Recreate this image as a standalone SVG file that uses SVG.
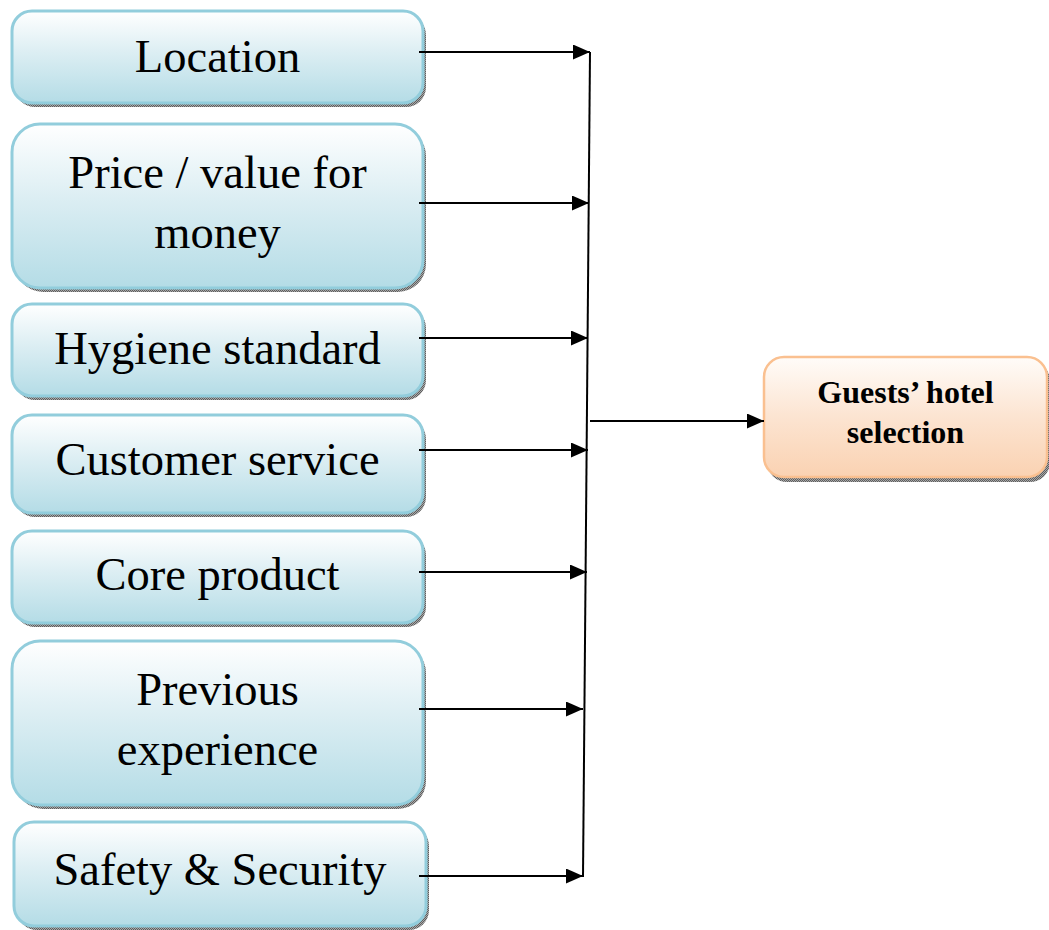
<svg xmlns="http://www.w3.org/2000/svg" width="1049" height="930" viewBox="0 0 1049 930">
  <style>
    .box { fill: url(#blueGrad); stroke: #92CDDC; stroke-width: 3; }
    .shadow { fill: url(#shadowPat); }
    .lbl { font-family: "Liberation Serif", "Times New Roman", serif; font-size: 46.5px; fill: #000; text-anchor: middle; }
    .out { fill: url(#orangeGrad); stroke: #FAC090; stroke-width: 2.5; }
    .outlbl { font-family: "Liberation Serif", "Times New Roman", serif; font-size: 32px; font-weight: bold; fill: #000; text-anchor: middle; }
    .conn { stroke: #000; stroke-width: 2; fill: none; }
  </style>
  <defs>
    <linearGradient id="blueGrad" x1="0" y1="0" x2="0" y2="1">
      <stop offset="0" stop-color="#FFFFFF"/>
      <stop offset="0.45" stop-color="#DCEEF3"/>
      <stop offset="1" stop-color="#B4DCE6"/>
    </linearGradient>
    <linearGradient id="orangeGrad" x1="0" y1="0" x2="0" y2="1">
      <stop offset="0" stop-color="#FFFCF9"/>
      <stop offset="0.5" stop-color="#FCE4D1"/>
      <stop offset="1" stop-color="#FAD2B2"/>
    </linearGradient>
    <pattern id="shadowPat" width="2" height="2" patternUnits="userSpaceOnUse">
      <rect width="2" height="2" fill="#A8A8A8"/>
      <rect width="1" height="1" fill="#5E5E5E"/>
      <rect x="1" y="1" width="1" height="1" fill="#5E5E5E"/>
    </pattern>
    <marker id="arrow" markerWidth="17" markerHeight="15" refX="17" refY="7.5" orient="auto" markerUnits="userSpaceOnUse">
      <path d="M0,0 L17,7.5 L0,15 Z" fill="#000"/>
    </marker>
  </defs>

  <g id="node-location">
    <rect class="shadow" x="15" y="15" width="411" height="92" rx="20"/>
    <rect class="box" x="12" y="11" width="411" height="92" rx="20"/>
    <text class="lbl" x="217.5" y="72">Location</text>
  </g>
  <g id="node-price">
    <rect class="shadow" x="15" y="128" width="411" height="164" rx="28"/>
    <rect class="box" x="12" y="124" width="411" height="164" rx="28"/>
    <text class="lbl" x="217.5" y="188">Price / value for</text>
    <text class="lbl" x="217.5" y="248">money</text>
  </g>
  <g id="node-hygiene">
    <rect class="shadow" x="15" y="308" width="411" height="92" rx="20"/>
    <rect class="box" x="12" y="304" width="411" height="92" rx="20"/>
    <text class="lbl" x="217.5" y="364">Hygiene standard</text>
  </g>
  <g id="node-customer">
    <rect class="shadow" x="15" y="419" width="411" height="98" rx="20"/>
    <rect class="box" x="12" y="415" width="411" height="98" rx="20"/>
    <text class="lbl" x="217.5" y="475">Customer service</text>
  </g>
  <g id="node-core">
    <rect class="shadow" x="15" y="535" width="411" height="92" rx="20"/>
    <rect class="box" x="12" y="531" width="411" height="92" rx="20"/>
    <text class="lbl" x="217.5" y="590">Core product</text>
  </g>
  <g id="node-previous">
    <rect class="shadow" x="15" y="645" width="411" height="164" rx="28"/>
    <rect class="box" x="12" y="641" width="411" height="164" rx="28"/>
    <text class="lbl" x="217.5" y="705">Previous</text>
    <text class="lbl" x="217.5" y="765">experience</text>
  </g>
  <g id="node-safety">
    <rect class="shadow" x="17" y="826" width="412" height="104" rx="20"/>
    <rect class="box" x="14" y="822" width="412" height="104" rx="20"/>
    <text class="lbl" x="220" y="885">Safety &amp; Security</text>
  </g>
  <g id="node-guests">
    <rect class="shadow" x="767" y="361" width="283" height="121" rx="20"/>
    <rect class="out" x="764" y="357" width="283" height="120" rx="20"/>
    <text class="outlbl" x="905.5" y="403">Guests’ hotel</text>
    <text class="outlbl" x="905.5" y="443">selection</text>
  </g>

  <g id="connectors">
    <line class="conn" x1="590" y1="52" x2="583" y2="877"/>
    <line class="conn" x1="419" y1="52" x2="590" y2="52" marker-end="url(#arrow)"/>
    <line class="conn" x1="419" y1="203" x2="589" y2="203" marker-end="url(#arrow)"/>
    <line class="conn" x1="419" y1="338" x2="588" y2="338" marker-end="url(#arrow)"/>
    <line class="conn" x1="419" y1="450" x2="588" y2="450" marker-end="url(#arrow)"/>
    <line class="conn" x1="419" y1="572" x2="587" y2="572" marker-end="url(#arrow)"/>
    <line class="conn" x1="419" y1="709" x2="583" y2="709" marker-end="url(#arrow)"/>
    <line class="conn" x1="419" y1="876" x2="583" y2="876" marker-end="url(#arrow)"/>
    <line class="conn" x1="590" y1="421" x2="764" y2="421" marker-end="url(#arrow)"/>
  </g>
</svg>
